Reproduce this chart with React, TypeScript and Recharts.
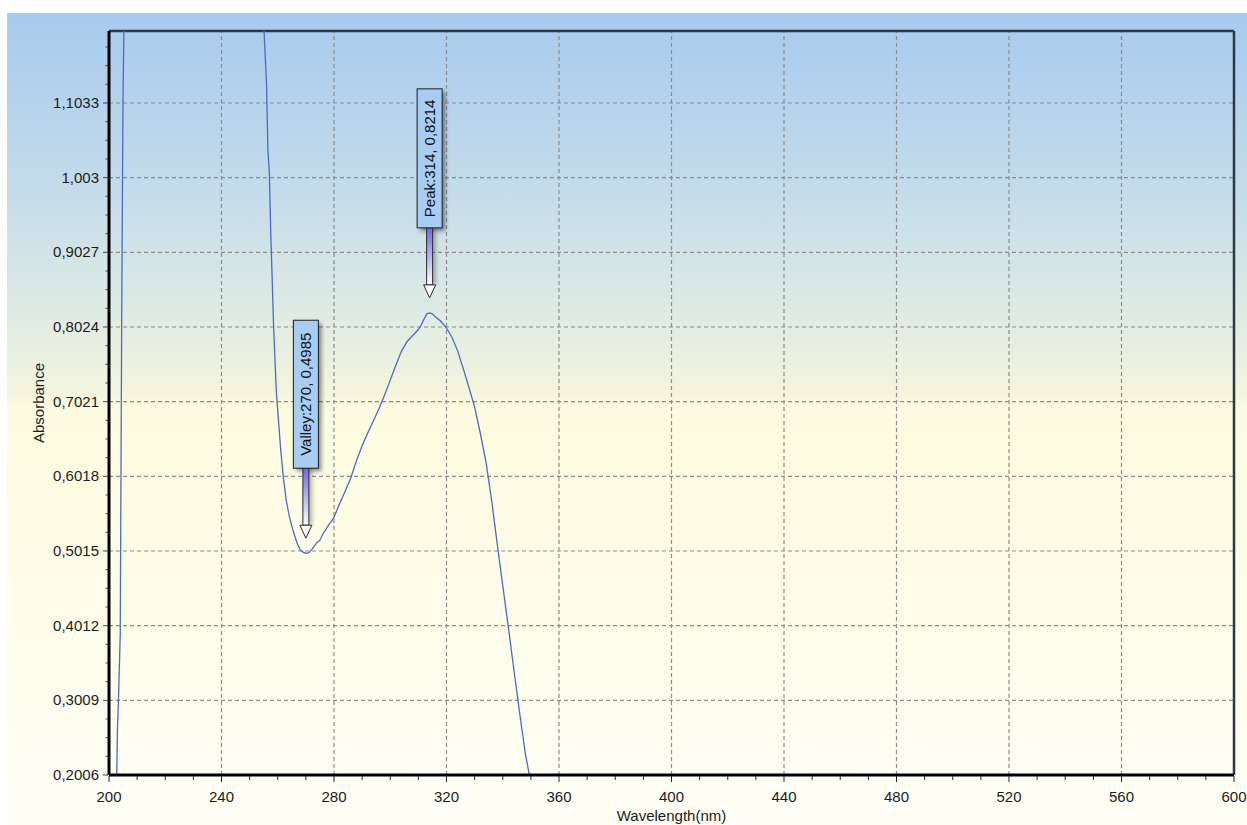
import { LineChart, Line, XAxis, YAxis, ReferenceLine, ReferenceDot } from 'recharts'

// ─── Data ────────────────────────────────────────────────────────────────────

const wavelength = [
  202.5, 203, 203.5, 204, 204.5, 205, 205.5, 206, 230, 254,
  255, 256, 256.5, 257, 257.5, 258, 258.5, 259, 259.5, 260,
  261, 262, 263, 264, 265, 266, 267, 268, 269, 270,
  271, 272, 273, 274, 275, 276, 277, 278, 279, 280,
  282, 284, 286, 288, 290, 292, 294, 296, 298, 300,
  302, 304, 306, 308, 310, 311, 312, 313, 314, 315,
  316, 318, 320, 322, 324, 326, 328, 330, 332, 334,
  336, 338, 340, 342, 344, 346, 348, 350,
]

const absorbance = [
  0.15, 0.26, 0.32, 0.39, 0.8, 1.12, 1.25, 1.5, 3.0, 1.5,
  1.21, 1.13, 1.04, 1.01, 0.93, 0.87, 0.805, 0.76, 0.715, 0.69,
  0.64, 0.6, 0.57, 0.55, 0.535, 0.522, 0.511, 0.503, 0.5, 0.4985,
  0.499, 0.503, 0.508, 0.513, 0.516, 0.524, 0.53, 0.536, 0.541, 0.547,
  0.565, 0.582, 0.6, 0.623, 0.643, 0.66, 0.676, 0.693, 0.711, 0.731,
  0.751, 0.77, 0.783, 0.791, 0.799, 0.805, 0.813, 0.82, 0.8214, 0.82,
  0.816, 0.81, 0.801, 0.788, 0.77, 0.746, 0.721, 0.695, 0.66, 0.622,
  0.571, 0.512, 0.455, 0.399, 0.341, 0.284, 0.23, 0.19,
]

const peaks = [{ kind: 'Peak', x: 314, y: 0.8214 }]
const valleys = [{ kind: 'Valley', x: 270, y: 0.4985 }]

const xMajorTicks = [200, 240, 280, 320, 360, 400, 440, 480, 520, 560, 600]
const yMajorTicks = [0.2006, 0.3009, 0.4012, 0.5015, 0.6018, 0.7021, 0.8024, 0.9027, 1.003, 1.1033]
const yTop = 1.2

// ─── Helpers ────────────────────────────────────────────────────────────────

const data = wavelength.map((w, i) => ({ w, a: absorbance[i] }))

const xTicks: number[] = []
xMajorTicks.slice(0, -1).forEach((t, i) => {
  const step = (xMajorTicks[i + 1] - t) / 4
  for (let k = 0; k < 4; k++) xTicks.push(t + k * step)
})
xTicks.push(600)

const yStep = (yMajorTicks[1] - yMajorTicks[0]) / 4
const yTicks: number[] = []
yMajorTicks.forEach((t) => {
  for (let k = 0; k < 4; k++) {
    const v = t + k * yStep
    if (v < yTop) yTicks.push(+v.toFixed(5))
  }
})

const fmt = (v: number) => String(v).replace('.', ',')
const isMajor = (list: number[], v: number) => list.some((m) => Math.abs(m - v) < 1e-4)

const FONT = '"Liberation Sans", Arial, sans-serif'
const TEXT = '#1c1c1c'

function XTick({ x, y, payload }: any) {
  const major = isMajor(xMajorTicks, payload.value)
  return (
    <g>
      <line x1={x} x2={x} y1={y + 1} y2={y + (major ? 7 : 5)} stroke="#222" strokeWidth={1} />
      {major && (
        <text x={x} y={y + 27} textAnchor="middle" fontSize={15} fontFamily={FONT} fill={TEXT}>
          {payload.value}
        </text>
      )}
    </g>
  )
}

function YTick({ x, y, payload }: any) {
  const major = isMajor(yMajorTicks, payload.value)
  return (
    <g>
      <line x1={x - (major ? 6 : 3.5)} x2={x - 1} y1={y} y2={y} stroke="#444" strokeWidth={1} />
      {major && (
        <text x={x - 10} y={y + 5} textAnchor="end" fontSize={15} fontFamily={FONT} fill={TEXT}>
          {fmt(payload.value)}
        </text>
      )}
    </g>
  )
}

function Marker({ cx, cy, text, id }: any) {
  const boxW = 25
  const boxH = 67 + 4.5 * text.length
  const boxBottom = cy - 85
  const boxTop = boxBottom - boxH
  const headTop = cy - 28
  const tip = cy - 15
  return (
    <g>
      <defs>
        <linearGradient id={`shaft-${id}`} x1="0" y1="0" x2="0" y2="1">
          <stop offset="0%" stopColor="#6a6ae6" />
          <stop offset="100%" stopColor="#ffffff" />
        </linearGradient>
        <filter id={`blur-${id}`} x="-50%" y="-50%" width="200%" height="200%">
          <feGaussianBlur stdDeviation="2" />
        </filter>
      </defs>
      <rect
        x={cx - boxW / 2 + 3}
        y={boxTop + 3}
        width={boxW}
        height={boxH}
        fill="#000"
        opacity={0.45}
        filter={`url(#blur-${id})`}
      />
      <rect
        x={cx + 1}
        y={boxBottom}
        width={5}
        height={headTop - boxBottom}
        fill="#000"
        opacity={0.3}
        filter={`url(#blur-${id})`}
      />
      <rect
        x={cx - 3}
        y={boxBottom}
        width={6}
        height={headTop - boxBottom}
        fill={`url(#shaft-${id})`}
        stroke="#2a2a2a"
        strokeWidth={1}
      />
      <path
        d={`M${cx - 6},${headTop} L${cx + 6},${headTop} L${cx},${tip} Z`}
        fill="#fafaff"
        stroke="#2a2a2a"
        strokeWidth={1}
      />
      <rect
        x={cx - boxW / 2}
        y={boxTop}
        width={boxW}
        height={boxH}
        fill="#a8ccf2"
        stroke="#1e1e1e"
        strokeWidth={1}
      />
      <text
        x={cx}
        y={boxTop + boxH / 2}
        transform={`rotate(-90 ${cx} ${boxTop + boxH / 2})`}
        textAnchor="middle"
        dominantBaseline="central"
        fontSize={15}
        fontFamily={FONT}
        fill="#111"
      >
        {text}
      </text>
    </g>
  )
}

function YTitle({ viewBox }: any) {
  const cx = 31
  const cy = viewBox.y + viewBox.height / 2
  return (
    <text
      x={cx}
      y={cy}
      transform={`rotate(-90 ${cx} ${cy})`}
      textAnchor="middle"
      dominantBaseline="central"
      fontSize={15}
      fontFamily={FONT}
      fill={TEXT}
    >
      Absorbance
    </text>
  )
}

function XTitle({ viewBox }: any) {
  const cx = viewBox.x + viewBox.width / 2
  return (
    <text x={cx} y={viewBox.y + 46} textAnchor="middle" fontSize={15} fontFamily={FONT} fill={TEXT}>
      Wavelength(nm)
    </text>
  )
}

// ─── Chart ──────────────────────────────────────────────────────────────────

export default function App() {
  const gridStyle = { stroke: '#8c8c8c', strokeDasharray: '4 3', strokeWidth: 1.2 }
  return (
    <div
      style={{
        position: 'absolute',
        left: 7,
        top: 13,
        width: 1240,
        height: 812,
        background:
          'linear-gradient(to bottom, #a8caee 0%, #c4dcea 22%, #e4eee2 40%, #f4f5dc 47%, #fcfce0 49%, #fdfdea 75%, #fefef6 100%)',
      }}
    >
      <LineChart width={1240} height={812} data={data} margin={{ top: 18, right: 13, bottom: 0, left: 0 }}>
        <XAxis
          dataKey="w"
          type="number"
          domain={[200, 600]}
          ticks={xTicks}
          interval={0}
          allowDataOverflow
          height={50}
          tickSize={0}
          tickMargin={0}
          tick={<XTick />}
          axisLine={{ stroke: '#000', strokeWidth: 3 }}
          tickLine={false}
          label={<XTitle />}
        />
        <YAxis
          type="number"
          domain={[0.2006, yTop]}
          ticks={yTicks}
          interval={0}
          allowDataOverflow
          width={102}
          tickSize={0}
          tickMargin={0}
          tick={<YTick />}
          axisLine={{ stroke: '#000', strokeWidth: 3 }}
          tickLine={false}
          label={<YTitle />}
        />
        {xMajorTicks.slice(1, -1).map((t) => (
          <ReferenceLine key={`gx${t}`} x={t} {...gridStyle} />
        ))}
        {yMajorTicks.map((t) => (
          <ReferenceLine key={`gy${t}`} y={t} {...gridStyle} />
        ))}
        <ReferenceLine y={yTop} stroke="#2c3844" strokeWidth={2.5} />
        <ReferenceLine x={600} stroke="#2c3844" strokeWidth={2.5} />
        <Line
          dataKey="a"
          type="linear"
          stroke="#4a6cc2"
          strokeWidth={1.3}
          dot={false}
          activeDot={false}
          isAnimationActive={false}
        />
        {[...valleys, ...peaks].map((p) => (
          <ReferenceDot
            key={p.kind}
            x={p.x}
            y={p.y}
            r={0}
            ifOverflow="visible"
            shape={(props: any) => (
              <Marker cx={props.cx} cy={props.cy} id={p.kind} text={`${p.kind}:${p.x}, ${fmt(p.y)}`} />
            )}
          />
        ))}
      </LineChart>
    </div>
  )
}
